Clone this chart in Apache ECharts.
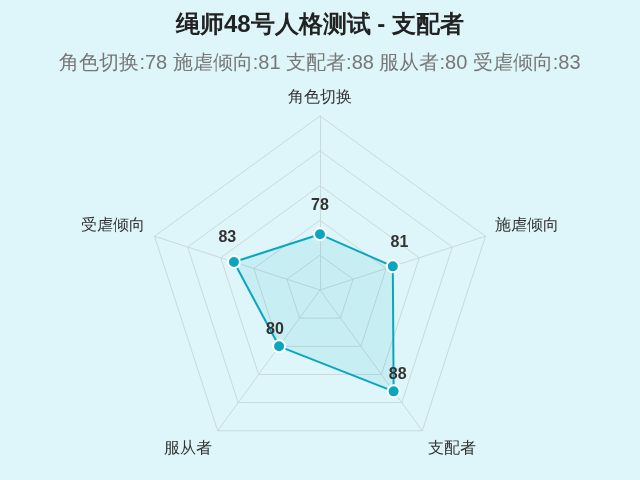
<!DOCTYPE html>
<html>
<head>
<meta charset="utf-8">
<script src="https://cdn.jsdelivr.net/npm/echarts@6/dist/echarts.min.js"></script>
<style>
html,body{margin:0;padding:0;background:#def6f9;}
#main{width:640px;height:480px;}
</style>
</head>
<body>
<div id="main"></div>
<script>
// clockwise order, starting at the top
var indicators = ['角色切换', '施虐倾向', '支配者', '服从者', '受虐倾向'];
var scores = [78, 81, 88, 80, 83];
var axisMin = 70;
var axisMax = 95;

var centerY = 290;
var myChart = echarts.init(document.getElementById('main'));

var sub = indicators.map(function(n, i){ return n + ':' + scores[i]; }).join(' ');

// echarts lays radar axes out counter-clockwise, so flip everything after the first
var order = [0, 4, 3, 2, 1];
var radarNames = order.map(function(i){ return indicators[i]; });
var radarValues = order.map(function(i){ return scores[i]; });

var option = {
	backgroundColor: '#def6f9',
	title: {
		text: '绳师48号人格测试 - 支配者',
		subtext: sub,
		left: 'center',
		top: 8,
		itemGap: 16,
		textStyle: {fontSize: 24, fontWeight: 'bold', color: '#222'},
		subtextStyle: {fontSize: 20, color: '#777'}
	},
	radar: {
		center: ['50%', centerY],
		radius: 174,
		startAngle: 90,
		splitNumber: 5,
		shape: 'polygon',
		indicator: radarNames.map(function(n){ return {name: n, min: axisMin, max: axisMax}; }),
		axisName: {
			color: '#333',
			fontSize: 16,
			formatter: function(name){
				var k = radarNames.indexOf(name);
				if (k == 1 || k == 4) return '{n|' + name + '}\n{s|}';
				if (k == 2 || k == 3) return '{b|}\n{n|' + name + '}';
				return name;
			},
			rich: {
				n: {fontSize: 16, color: '#333', lineHeight: 18},
				s: {fontSize: 16, lineHeight: 16},
				b: {fontSize: 16, lineHeight: 20}
			}
		},
		nameGap: 10,
		splitArea: {show: false},
		splitLine: {lineStyle: {color: '#cbd9dc', width: 1}},
		axisLine: {lineStyle: {color: '#cbd9dc', width: 1}}
	},
	series: [{
		type: 'radar',
		symbol: 'circle',
		symbolSize: 12,
		lineStyle: {color: '#0aa6bf', width: 2},
		itemStyle: {color: '#0aa6bf', borderColor: '#fff', borderWidth: 2},
		areaStyle: {color: 'rgba(10,166,191,0.15)'},
		label: {show: true, fontSize: 16, fontWeight: 'bold', color: '#333', distance: 7},
		labelLayout: function(p){
			// nudge each value label a little outward along its axis
			var x = p.rect.x + p.rect.width / 2 - myChart.getWidth() / 2;
			var y = p.rect.y + p.rect.height / 2 - centerY;
			var len = Math.sqrt(x * x + y * y) || 1;
			return {dx: x / len * 7, dy: y / len * 7};
		},
		data: [{value: radarValues, name: '支配者'}]
	}]
};
myChart.setOption(option);
</script>
</body>
</html>
